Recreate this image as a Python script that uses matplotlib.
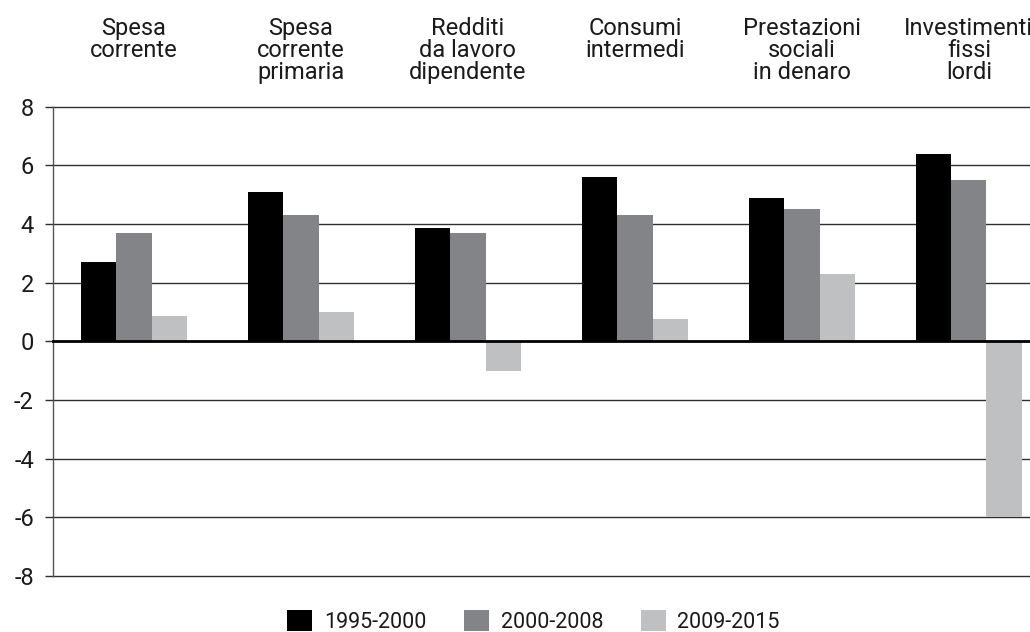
import numpy as np
import matplotlib.pyplot as plt
import matplotlib.transforms as mtransforms
from matplotlib.patches import Patch

plt.rcParams['font.family'] = ['Roboto', 'DejaVu Sans']
plt.rcParams['axes.unicode_minus'] = False

# Variazioni medie annue per voce di spesa e periodo
categories = ['Spesa\ncorrente', 'Spesa\ncorrente\nprimaria', 'Redditi\nda lavoro\ndipendente',
              'Consumi\nintermedi', 'Prestazioni\nsociali\nin denaro', 'Investimenti\nfissi\nlordi']
periods = ['1995-2000', '2000-2008', '2009-2015']
v_1995_2000 = [2.7, 5.1, 3.85, 5.6, 4.9, 6.4]
v_2000_2008 = [3.7, 4.3, 3.7, 4.3, 4.5, 5.5]
v_2009_2015 = [0.85, 1.0, -1.0, 0.75, 2.3, -6.0]
yticks = [-8, -6, -4, -2, 0, 2, 4, 6, 8]

colors = ['#000000', '#838487', '#bfc0c2']
series = [v_1995_2000, v_2000_2008, v_2009_2015]

fig = plt.figure(figsize=(10.3, 6.32), dpi=100)
ax = fig.add_axes([0.0512, 0.0886, 0.9488, 0.7426])

x = np.arange(len(categories))
w = 0.211
for i, (vals, c) in enumerate(zip(series, colors)):
    ax.bar(x + (i - 1) * w, vals, width=w, color=c, zorder=2, label=periods[i])

# griglia orizzontale dietro le barre, linea dello zero sopra
for t in yticks:
    if t == 0:
        ax.axhline(t, color='black', lw=2.0, zorder=3, clip_on=False)
    else:
        ax.axhline(t, color='#2e2e2e', lw=1.0, zorder=1, clip_on=False)

ax.set_xlim(-0.486, 5.366)
ax.set_ylim(-8, 8)
ax.set_yticks(yticks)
ax.set_yticklabels([str(t) for t in yticks])
ax.set_xticks([])
for s in ['top', 'right', 'bottom']:
    ax.spines[s].set_visible(False)
ax.spines['left'].set_color('#555555')
ax.spines['left'].set_linewidth(1.0)
ax.tick_params(axis='y', length=5.5, width=1.0, color='#2e2e2e', pad=8,
               labelsize=17, labelcolor='#1a1a1a')

# etichette delle categorie sopra il grafico
trans = mtransforms.blended_transform_factory(ax.transData, fig.transFigure)
for xi, lab in zip(x, categories):
    ax.text(xi, 0.973, lab, transform=trans, ha='center', va='top',
            fontsize=17, color='#1a1a1a', linespacing=0.95, clip_on=False)

handles = [Patch(facecolor=c, edgecolor='none') for c in colors]
fig.legend(handles, periods, loc='center', bbox_to_anchor=(0.518, 0.017), ncol=3,
           frameon=False, fontsize=15.5, handlelength=1.15, handleheight=1.15,
           handletextpad=0.55, columnspacing=1.75, labelcolor='#1a1a1a')

fig.savefig('out.png', dpi=100)
